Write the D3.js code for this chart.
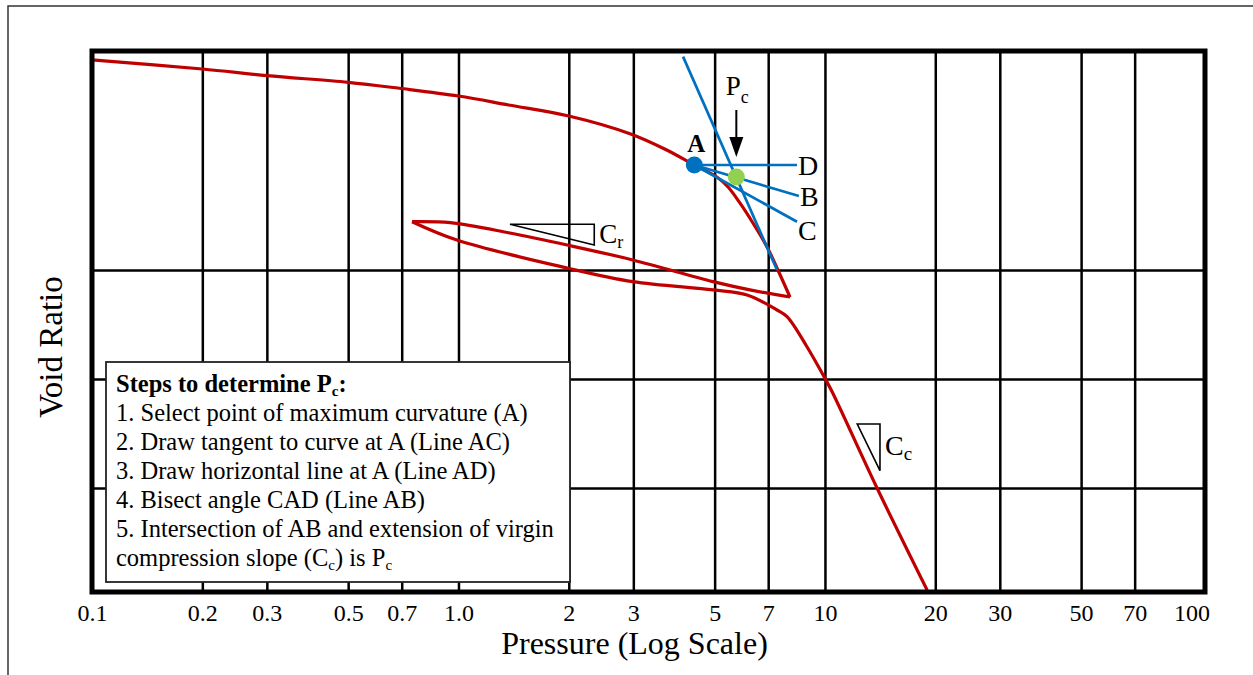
<!DOCTYPE html>
<html>
<head>
<meta charset="utf-8">
<script src="https://cdn.jsdelivr.net/npm/d3@7"></script>
<style>
  body { margin: 0; background: #fff; }
  text { font-family: 'Liberation Serif', 'Times New Roman', serif; fill: #000; }
</style>
</head>
<body>
<div id="chart"></div>
<script>
// pressure axis (log scale)
const tickValues = [0.1, 0.2, 0.3, 0.5, 0.7, 1, 2, 3, 5, 7, 10, 20, 30, 50, 70, 100]
const tickLabels = ['0.1', '0.2', '0.3', '0.5', '0.7', '1.0', '2', '3', '5', '7', '10', '20', '30', '50', '70', '100']
const gridPressure = [0.2, 0.3, 0.5, 0.7, 1, 2, 3, 5, 7, 10, 20, 30, 50, 70]
const gridVoid = [0.7, 0.8, 0.9]

// e - log p curve
// loading branch (to the start of unloading)
const loadP = [0.1, 0.2, 0.3, 0.5, 0.69, 1.0, 1.37, 2.0, 2.95, 3.7, 4.4, 5.07, 5.44, 5.86, 6.36, 6.95, 7.44, 8.03]
const loadE = [1.0927, 1.0844, 1.0783, 1.0722, 1.0667, 1.0596, 1.0514, 1.0413, 1.0248, 1.0101, 0.9963, 0.9853, 0.9761, 0.9615, 0.9431, 0.9211, 0.9, 0.8752]
// unloading branch
const unloadP = [8.03, 6.24, 4.95, 2.99, 1.98, 1.38, 0.95, 0.747]
const unloadE = [0.8752, 0.8817, 0.8893, 0.9092, 0.9229, 0.9339, 0.9434, 0.9443]
// reloading + virgin compression
const reloadP = [0.747, 0.99, 1.98, 2.99, 4.95, 6.13, 7.40, 7.88, 8.93, 10.0, 10.5, 13.87, 19.0]
const reloadE = [0.9443, 0.9275, 0.9018, 0.8893, 0.8817, 0.8771, 0.8633, 0.8572, 0.8296, 0.8006, 0.7872, 0.70, 0.6064]

// Casagrande construction
const pointA = [4.4, 0.9963]
const pointPc = [5.73, 0.9853]
const endD = [8.39, 0.9963]
const endB = [8.49, 0.9679]
const endC = [8.39, 0.9443]
const ccExtension = [[4.1, 1.0957], [7.4, 0.9]]
const pcArrow = [1.0468, 1.0037]
const crTriangle = [[1.382, 0.9419], [2.347, 0.9419], [2.347, 0.9229]]
const ccTriangle = [[12.25, 0.7587], [14.13, 0.7587], [14.13, 0.7159]]

// legend text, [text, isSubscript]
const legendLines = [
  [['Steps to determine P', false], ['c', true], [':', false]],
  [['1. Select point of maximum curvature (A)', false]],
  [['2. Draw tangent to curve at A (Line AC)', false]],
  [['3. Draw horizontal line at A (Line AD)', false]],
  [['4. Bisect angle CAD (Line AB)', false]],
  [['5. Intersection of AB and extension of virgin', false]],
  [['compression slope (C', false], ['c', true], [') is P', false], ['c', true]]
]

const margin = { top: 51, left: 92, right: 48, bottom: 83 }
const width = 1253 - margin.left - margin.right
const height = 675 - margin.top - margin.bottom

const svg = d3
  .select('#chart')
  .append('svg')
  .attr('width', 1253)
  .attr('height', 675)

svg
  .append('rect')
  .attr('x', 8)
  .attr('y', 6)
  .attr('width', 1300)
  .attr('height', 700)
  .attr('fill', 'none')
  .attr('stroke', '#333')
  .attr('stroke-width', 1.5)

const g = svg
  .append('g')
  .attr('transform', 'translate(' + margin.left + ',' + margin.top + ')')

const x = d3
  .scaleLog()
  .domain([0.1, 108.9])
  .range([0, width])

const y = d3
  .scaleLinear()
  .domain([0.6046, 1.1009])
  .range([height, 0])

// grid
g.append('g')
  .attr('transform', 'translate(0,' + height + ')')
  .call(d3.axisBottom(x).tickValues(gridPressure).tickSize(-height).tickFormat(''))
  .call(s => s.select('.domain').remove())
  .selectAll('line')
  .attr('stroke', '#000')
  .attr('stroke-width', 2.5)

g.append('g')
  .call(d3.axisLeft(y).tickValues(gridVoid).tickSize(-width).tickFormat(''))
  .call(s => s.select('.domain').remove())
  .selectAll('line')
  .attr('stroke', '#000')
  .attr('stroke-width', 2.5)

// tick labels
g.append('g')
  .attr('transform', 'translate(0,' + height + ')')
  .call(d3.axisBottom(x).tickValues(tickValues).tickFormat((d, i) => tickLabels[i]).tickSize(0))
  .call(s => s.select('.domain').remove())
  .selectAll('text')
  .attr('y', 29)
  .attr('dy', 0)
  .style('font-size', '24px')

// red curve
const curveLine = d3
  .line()
  .x(d => x(d[0]))
  .y(d => y(d[1]))
  .curve(d3.curveCatmullRom.alpha(0.5))

const branches = [d3.zip(loadP, loadE), d3.zip(unloadP, unloadE), d3.zip(reloadP, reloadE)]

g.selectAll('.branch')
  .data(branches)
  .join('path')
  .attr('class', 'branch')
  .attr('d', curveLine)
  .attr('fill', 'none')
  .attr('stroke', '#c00000')
  .attr('stroke-width', 3.2)
  .attr('stroke-linejoin', 'round')

// blue construction lines
const straight = d3
  .line()
  .x(d => x(d[0]))
  .y(d => y(d[1]))

g.selectAll('.construct')
  .data([[pointA, endD], [pointA, endB], [pointA, endC], ccExtension])
  .join('path')
  .attr('class', 'construct')
  .attr('d', straight)
  .attr('fill', 'none')
  .attr('stroke', '#0070c0')
  .attr('stroke-width', 2.7)

// slope triangles
g.selectAll('.slope')
  .data([crTriangle, ccTriangle])
  .join('path')
  .attr('class', 'slope')
  .attr('d', d => straight(d) + 'Z')
  .attr('fill', 'none')
  .attr('stroke', '#000')
  .attr('stroke-width', 1.6)

// points A and Pc
g.append('circle')
  .attr('cx', x(pointA[0]))
  .attr('cy', y(pointA[1]))
  .attr('r', 8.5)
  .attr('fill', '#0070c0')

g.append('circle')
  .attr('cx', x(pointPc[0]))
  .attr('cy', y(pointPc[1]))
  .attr('r', 8.5)
  .attr('fill', '#92d050')

// arrow to Pc
const ax = x(pointPc[0])
g.append('line')
  .attr('x1', ax)
  .attr('x2', ax)
  .attr('y1', y(pcArrow[0]))
  .attr('y2', y(pcArrow[1]) - 18)
  .attr('stroke', '#000')
  .attr('stroke-width', 2)
g.append('path')
  .attr('d', 'M' + (ax - 7) + ',' + (y(pcArrow[1]) - 20) + 'L' + (ax + 7) + ',' + (y(pcArrow[1]) - 20) + 'L' + ax + ',' + y(pcArrow[1]) + 'Z')
  .attr('fill', '#000')

// helper for text with subscripts
function rich(sel, parts, subSize, shift) {
  parts.forEach(p => {
    if (p[1]) {
      sel.append('tspan').attr('dy', shift).style('font-size', subSize).text(p[0])
    } else {
      const t = sel.append('tspan').text(p[0])
      if (sel.selectAll('tspan').size() > 1) t.attr('dy', -shift)
    }
  })
}

// labels
g.append('text')
  .attr('x', x(pointA[0]) + 2)
  .attr('y', y(pointA[1]) - 13)
  .attr('text-anchor', 'middle')
  .style('font-size', '25px')
  .style('font-weight', 'bold')
  .text('A')

const endLabels = [['D', endD, 9.5], ['B', endB, 10], ['C', endC, 18]]
endLabels.forEach(l => {
  g.append('text')
    .attr('x', x(l[1][0]) + 1)
    .attr('y', y(l[1][1]) + l[2])
    .style('font-size', '28px')
    .text(l[0])
})

const pcLabel = g.append('text')
  .attr('x', ax - 10.5)
  .attr('y', y(pcArrow[0]) - 15)
  .style('font-size', '27px')
rich(pcLabel, [['P', false], ['c', true]], '18px', 8)

const crLabel = g.append('text')
  .attr('x', x(crTriangle[1][0]) + 5)
  .attr('y', y(crTriangle[2][1]) - 2)
  .style('font-size', '27px')
rich(crLabel, [['C', false], ['r', true]], '18px', 5)

const ccLabel = g.append('text')
  .attr('x', x(ccTriangle[1][0]) + 5)
  .attr('y', y(ccTriangle[1][1]) + 31)
  .style('font-size', '28px')
rich(ccLabel, [['C', false], ['c', true]], '19px', 5)

// frame
g.append('rect')
  .attr('width', width)
  .attr('height', height)
  .attr('fill', 'none')
  .attr('stroke', '#000')
  .attr('stroke-width', 5)

// legend box
const legendX = 14
const legendY = 311
const legend = g.append('g').attr('transform', 'translate(' + legendX + ',' + legendY + ')')
legend
  .append('rect')
  .attr('width', 464)
  .attr('height', 220)
  .attr('fill', '#fff')
  .attr('stroke', '#222')
  .attr('stroke-width', 1.8)

legendLines.forEach((parts, i) => {
  const t = legend
    .append('text')
    .attr('x', 10)
    .attr('y', 30 + i * 29)
    .style('font-size', '24.5px')
    .style('font-weight', i === 0 ? 'bold' : 'normal')
  rich(t, parts, '15px', 4)
})

// axis titles
g.append('text')
  .attr('x', width / 2 - 14)
  .attr('y', height + 62)
  .attr('text-anchor', 'middle')
  .style('font-size', '32px')
  .text('Pressure (Log Scale)')

g.append('text')
  .attr('transform', 'translate(' + (62 - margin.left) + ',' + (347 - margin.top) + ') rotate(-90)')
  .attr('text-anchor', 'middle')
  .style('font-size', '33px')
  .text('Void Ratio')
</script>
</body>
</html>
